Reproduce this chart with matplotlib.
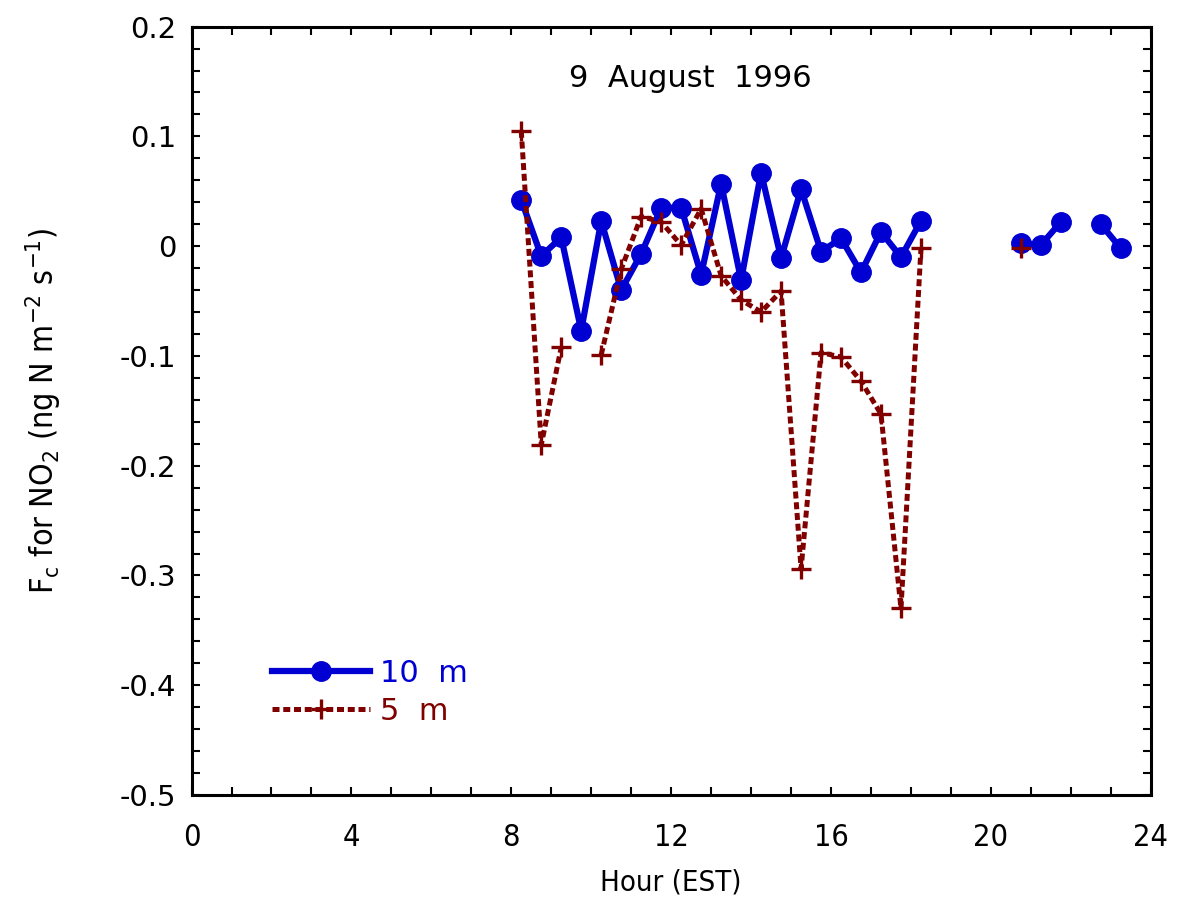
import numpy as np
import matplotlib
matplotlib.use('Agg')
import matplotlib.pyplot as plt
from matplotlib.ticker import MultipleLocator

# half-hour averaging periods (EST), NaN = no data
hours = [8.25, 8.75, 9.25, 9.75, 10.25, 10.75, 11.25, 11.75, 12.25, 12.75,
         13.25, 13.75, 14.25, 14.75, 15.25, 15.75, 16.25, 16.75, 17.25, 17.75,
         18.25, 18.75, 19.25, 19.75, 20.25, 20.75, 21.25, 21.75, 22.25, 22.75,
         23.25]
nan = np.nan
flux_10m = [0.042, -0.009, 0.008, -0.077, 0.023, -0.040, -0.007, 0.035, 0.035, -0.026,
            0.057, -0.031, 0.067, -0.011, 0.052, -0.005, 0.007, -0.024, 0.013, -0.010,
            0.023, nan, nan, nan, nan, 0.003, 0.001, 0.022, nan, 0.020,
            -0.002]
flux_5m = [0.105, -0.181, -0.092, nan, -0.099, -0.021, 0.027, 0.022, 0.001, 0.034,
           -0.027, -0.049, -0.060, -0.041, -0.294, -0.097, -0.101, -0.123, -0.153, -0.330,
           -0.002, nan, nan, nan, nan, -0.002, nan, nan, nan, nan,
           nan]

blue = '#0000d2'
red = '#800000'

fig = plt.figure(figsize=(11.86, 9.14), dpi=100)
ax = fig.add_axes([0.1615, 0.1302, 0.8088, 0.8407])

ax.plot(hours, flux_10m, color=blue, lw=4.5, marker='o', ms=14, label='10  m')
ax.plot(hours, flux_5m, color=red, lw=3.6, ls=(0, (1.4, 0.75)), dash_capstyle='butt',
        marker='+', ms=15, mew=2.4, label='5  m')

ax.set_xlim(0, 24)
ax.set_ylim(-0.5, 0.2)
ax.xaxis.set_major_locator(MultipleLocator(4))
ax.xaxis.set_minor_locator(MultipleLocator(1))
ax.yaxis.set_minor_locator(MultipleLocator(0.02))
ax.set_yticks(np.arange(-0.5, 0.21, 0.1))
ax.set_yticklabels(['-0.5', '-0.4', '-0.3', '-0.2', '-0.1', '0', '0.1', '0.2'])

ax.tick_params(which='both', direction='in', top=True, right=True,
               length=6, width=1.5, color='black')
ax.tick_params(axis='y', labelsize=21, pad=11)
ax.tick_params(axis='x', labelsize=22, pad=20)
for lab in ax.get_xticklabels():
    lab.set_fontstretch('condensed')
for sp in ax.spines.values():
    sp.set_linewidth(2.2)

ax.set_xlabel('Hour (EST)', fontsize=21, fontstretch='condensed')
ax.set_ylabel(r'F$_\mathregular{c}$ for NO$_\mathregular{2}$ (ng N m$^\mathregular{-2}$ s$^\mathregular{-1}$)',
              fontsize=23, fontstretch='condensed')
ax.xaxis.set_label_coords(0.5, -0.0955)
ax.yaxis.set_label_coords(-0.134, 0.5)

ax.text(0.52, 0.933, '9  August  1996', transform=ax.transAxes, fontsize=22,
        ha='center', va='center')

leg = ax.legend(loc='upper left', bbox_to_anchor=(0.0839, 0.177), frameon=False,
                fontsize=22, handlelength=3.2, handletextpad=0.35, labelspacing=0.28,
                borderpad=0, borderaxespad=0)
for txt, c in zip(leg.get_texts(), [blue, red]):
    txt.set_color(c)

fig.savefig('out.png', dpi=100)
